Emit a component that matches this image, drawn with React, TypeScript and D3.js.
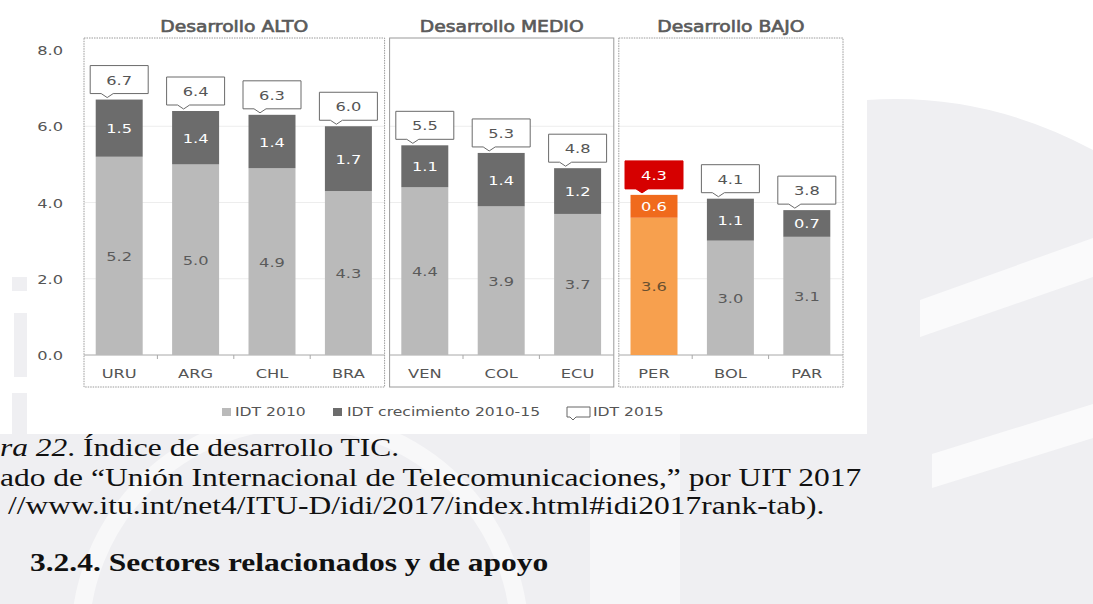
import React from 'react';
import * as d3 from 'd3';

// values
const countries = ['URU', 'ARG', 'CHL', 'BRA', 'VEN', 'COL', 'ECU', 'PER', 'BOL', 'PAR'];
const idt2010 = [5.2, 5.0, 4.9, 4.3, 4.4, 3.9, 3.7, 3.6, 3.0, 3.1];
const growth = [1.5, 1.4, 1.4, 1.7, 1.1, 1.4, 1.2, 0.6, 1.1, 0.7];
const idt2015 = [6.7, 6.4, 6.3, 6.0, 5.5, 5.3, 4.8, 4.3, 4.1, 3.8];
const groupNames = ['Desarrollo  ALTO', 'Desarrollo  MEDIO', 'Desarrollo  BAJO'];
const groupOf = [0, 0, 0, 0, 1, 1, 1, 2, 2, 2];
const yTicks = [0, 2, 4, 6, 8];
const highlight = 'PER';
const legendLabels = ['IDT 2010', 'IDT crecimiento 2010-15', 'IDT 2015'];

const W = 1093;
const H = 604;
const SX = 1.25; // the page screenshot is stretched sideways
const SANS = 'DejaVu Sans, Verdana, sans-serif';
const SERIF = 'Liberation Serif, Times New Roman, serif';

const LIGHT = '#bababa';
const DARK = '#6c6c6c';
const OR_LIGHT = '#f7a04e';
const OR_DARK = '#f06a1c';
const RED = '#d60000';
const TXT = '#555';

type TProps = {
  x: number; y: number; size: number; fill?: string; anchor?: string;
  weight?: string | number; bold?: boolean; children?: React.ReactNode;
};
const T = ({ x, y, size, fill = TXT, anchor = 'middle', bold = false, children }: TProps) => (
  <text
    transform={`translate(${x},${y}) scale(${SX},1)`}
    textAnchor={anchor as any}
    fontSize={size}
    fill={fill}
    fontFamily={SANS}
    stroke={bold ? fill : undefined}
    strokeWidth={bold ? 0.6 : undefined}
  >
    {children}
  </text>
);

const bubble = (cx: number, top: number, w: number, h: number) => {
  const l = cx - w / 2, r = cx + w / 2, b = top + h, px = cx - 12;
  return `M${l},${top}H${r}V${b}H${px + 6}L${px},${b + 4}L${px - 6},${b}H${l}Z`;
};

export default function App() {
  const x = d3.scaleBand<string>().domain(countries).range([81, 845]).paddingInner(0.385).paddingOuter(0.1925);
  const y = d3.scaleLinear().domain([0, 8]).range([355, 50]);
  const step = x.step();
  const cellStart = (i: number) => 81 + i * step;

  const panels = groupNames.map((name, g) => {
    const idx = groupOf.map((v, i) => (v === g ? i : -1)).filter((i) => i >= 0);
    const left = cellStart(idx[0]) + 3;
    const right = cellStart(idx[idx.length - 1] + 1) - 2;
    return { name, idx, left, right };
  });

  const top = 38;
  const bottom = 387;

  return (
    <svg width={W} height={H} style={{ position: 'absolute', left: 0, top: 0, background: '#fff' }}>
      {/* watermark of the page behind */}
      <g fill="#efeff2">
        <path d="M867,100 Q985,92 1093,150 L1093,604 L867,604 Z" />
        <rect x={0} y={434} width={W} height={170} />
        <rect x={12} y={277} width={15} height={14} />
        <rect x={14} y={313} width={13} height={64} />
        <rect x={12} y={393} width={15} height={41} />
      </g>
      <g fill="#fafafb">
        <path d="M920,300 L1093,238 L1093,277 L920,337 Z" />
        <path d="M932,454 L1093,404 L1093,438 L932,488 Z" />
        <rect x={590} y={434} width={90} height={170} opacity={0.6} />
      </g>
      <circle cx={300} cy={640} r={220} fill="none" stroke="#f8f8f9" strokeWidth={18} />
      <rect x={28} y={0} width={838} height={434} fill="#fff" />

      {/* panels */}
      {panels.map((p, g) => (
        <g key={p.name}>
          <T x={(p.left + p.right) / 2} y={32} size={15} bold fill="#5a5a5a">
            {p.name}
          </T>
          {yTicks.slice(1, 4).map((t) => (
            <line key={t} x1={p.left} x2={p.right} y1={y(t)} y2={y(t)} stroke="#ededed" />
          ))}
          <rect
            x={p.left}
            y={top}
            width={p.right - p.left}
            height={bottom - top}
            fill="none"
            stroke="#9a9a9a"
            strokeDasharray={g === 1 ? undefined : '1.5,1'}
            strokeWidth={1}
          />
          <line x1={p.left} x2={p.right} y1={y(0)} y2={y(0)} stroke="#a8a8a8" />
          {p.idx.slice(1).map((i) => (
            <line key={i} x1={cellStart(i)} x2={cellStart(i)} y1={y(0)} y2={y(0) + 4} stroke="#a8a8a8" />
          ))}
        </g>
      ))}

      {/* y axis */}
      {yTicks.map((t) => (
        <T key={t} x={63} y={y(t) + 5} size={13} anchor="end">
          {t.toFixed(1)}
        </T>
      ))}

      {/* bars */}
      {countries.map((c, i) => {
        const bx = x(c) as number;
        const bw = x.bandwidth();
        const cx = bx + bw / 2;
        const hi = c === highlight;
        const total = idt2010[i] + growth[i];
        const bTop = y(total);
        return (
          <g key={c}>
            <rect x={bx} y={y(idt2010[i])} width={bw} height={y(0) - y(idt2010[i])} fill={hi ? OR_LIGHT : LIGHT} />
            <rect x={bx} y={bTop} width={bw} height={y(idt2010[i]) - bTop} fill={hi ? OR_DARK : DARK} />
            <T x={cx} y={(y(0) + y(idt2010[i])) / 2 + 5} size={13} fill={hi ? '#6a5030' : '#5a5a5a'}>
              {idt2010[i].toFixed(1)}
            </T>
            <T x={cx} y={(bTop + y(idt2010[i])) / 2 + 5} size={13} fill="#fff">
              {growth[i].toFixed(1)}
            </T>
            <path
              d={bubble(cx, bTop - 34, 58, 28)}
              fill={hi ? RED : '#fff'}
              stroke={hi ? RED : '#6a6a6a'}
              strokeWidth={1}
            />
            <T x={cx} y={bTop - 15} size={13} fill={hi ? '#fff' : '#555'}>
              {idt2015[i].toFixed(1)}
            </T>
            <T x={cx} y={378} size={13}>
              {c}
            </T>
          </g>
        );
      })}

      {/* legend */}
      <rect x={222} y={408} width={9} height={8} fill={LIGHT} />
      <T x={235} y={416} size={12.5} anchor="start">{legendLabels[0]}</T>
      <rect x={333} y={408} width={9} height={8} fill={DARK} />
      <T x={347} y={416} size={12.5} anchor="start">{legendLabels[1]}</T>
      <path d="M567,407H590V417H576L573,420L570,417H567Z" fill="#fff" stroke="#666" />
      <T x={593} y={416} size={12.5} anchor="start">{legendLabels[2]}</T>

      {/* caption of the document */}
      <text transform="translate(0,456) scale(1.26,1)" fontSize={25} fontFamily={SERIF} fill="#111">
        <tspan fontStyle="italic">ra 22</tspan>. Índice de desarrollo TIC.
      </text>
      <text transform="translate(0,486) scale(1.26,1)" fontSize={25} fontFamily={SERIF} fill="#111">
        ado de “Unión Internacional de Telecomunicaciones,” por UIT 2017
      </text>
      <text transform="translate(8,514) scale(1.26,1)" fontSize={25} fontFamily={SERIF} fill="#111">
        //www.itu.int/net4/ITU-D/idi/2017/index.html#idi2017rank-tab).
      </text>
      <text transform="translate(30,571) scale(1.26,1)" fontSize={25} fontWeight="bold" fontFamily={SERIF} fill="#111">
        3.2.4. Sectores relacionados y de apoyo
      </text>
    </svg>
  );
}
